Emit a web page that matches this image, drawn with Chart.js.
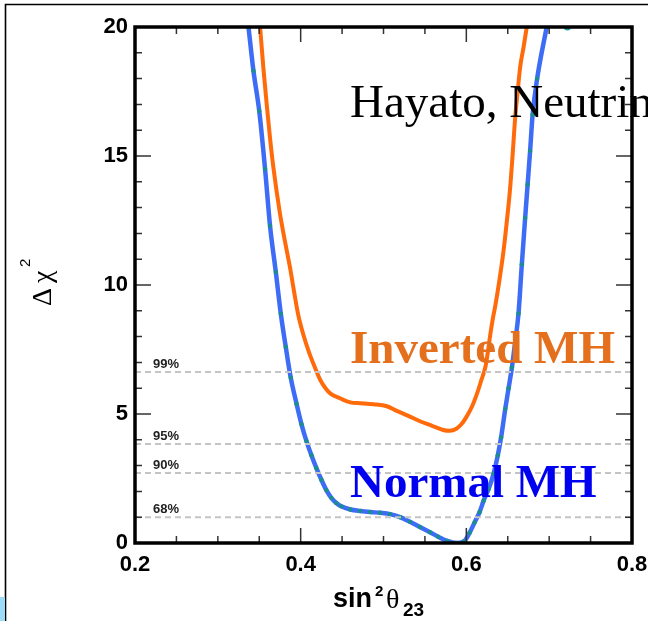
<!DOCTYPE html>
<html>
<head>
<meta charset="utf-8">
<script src="https://cdn.jsdelivr.net/npm/chart.js@4/dist/chart.umd.min.js"></script>
<style>
    html, body { margin: 0; padding: 0; background: #fff; }
    #wrap { width: 648px; height: 621px; position: relative; }
</style>
</head>
<body>
<div id="wrap"><canvas id="chart" width="648" height="621"></canvas></div>
<script>
// normal mass hierarchy (blue)
const normalX = [0.337, 0.343, 0.350, 0.357, 0.363, 0.370, 0.376, 0.382, 0.388, 0.395, 0.401, 0.407, 0.413, 0.419, 0.425, 0.431, 0.437, 0.443, 0.449, 0.460, 0.472, 0.484, 0.496, 0.508, 0.520, 0.532, 0.544, 0.556, 0.566, 0.577, 0.588, 0.597, 0.604, 0.610, 0.616, 0.621, 0.627, 0.633, 0.638, 0.642, 0.647, 0.651, 0.655, 0.659, 0.663, 0.667, 0.671, 0.674, 0.677, 0.680, 0.6855, 0.697];
const normalY = [20, 18.3, 16.74, 14.5, 12.3, 10.5, 8.89, 7.6, 6.41, 5.4, 4.6, 3.95, 3.4, 2.9, 2.45, 2.05, 1.75, 1.55, 1.42, 1.3, 1.24, 1.2, 1.17, 1.12, 1.0, 0.82, 0.62, 0.42, 0.24, 0.08, 0.0, 0.06, 0.4, 0.8, 1.2, 1.65, 2.1, 2.7, 3.4, 4.1, 5.2, 6.0, 6.8, 7.8, 8.9, 10.8, 12.6, 13.9, 15.2, 16.6, 18.0, 20];

// inverted mass hierarchy (orange)
const invertedX = [0.351, 0.355, 0.359, 0.363, 0.367, 0.375, 0.381, 0.387, 0.392, 0.397, 0.403, 0.410, 0.417, 0.424, 0.430, 0.436, 0.448, 0.460, 0.472, 0.488, 0.504, 0.516, 0.530, 0.544, 0.558, 0.572, 0.580, 0.588, 0.594, 0.600, 0.607, 0.613, 0.618, 0.623, 0.626, 0.629, 0.632, 0.635, 0.640, 0.645, 0.649, 0.653, 0.656, 0.659, 0.662, 0.665, 0.669, 0.673];
const invertedY = [20, 18.4, 17.0, 15.7, 14.57, 12.77, 11.7, 10.7, 9.75, 8.85, 8.1, 7.4, 6.82, 6.3, 6.0, 5.79, 5.6, 5.45, 5.42, 5.38, 5.3, 5.12, 4.93, 4.72, 4.55, 4.38, 4.35, 4.43, 4.6, 4.88, 5.3, 5.8, 6.3, 6.82, 7.4, 8.1, 8.7, 9.2, 10.2, 11.35, 12.5, 13.8, 15.1, 16.5, 17.5, 18.45, 19.2, 20];

// extra marker on the top edge
const edgeX = [0.722];
const edgeY = [20];

// confidence levels
const clLabels = ["99%", "95%", "90%", "68%"];
const clValues = [6.63, 3.84, 2.71, 1.0];

const xTicks = [0.2, 0.4, 0.6, 0.8];
const yTicks = [0, 5, 10, 15, 20];

const X_MIN = 0.2, X_MAX = 0.8, Y_MIN = 0, Y_MAX = 20;

function toPoints(xs, ys) {
    return xs.map((x, i) => ({ x: x, y: ys[i] }));
}

const datasets = [];
clValues.forEach((v, i) => {
    datasets.push({
        label: clLabels[i],
        data: [{ x: X_MIN, y: v }, { x: X_MAX, y: v }],
        borderColor: "#c4c4c4",
        borderWidth: 2,
        borderDash: [6, 4],
        pointRadius: 0
    });
});
datasets.push({
    label: "Inverted MH",
    data: toPoints(invertedX, invertedY),
    borderColor: "#ff6a0a",
    borderWidth: 4,
    pointRadius: 0,
    cubicInterpolationMode: "monotone"
});
datasets.push({
    label: "Normal MH",
    data: toPoints(normalX, normalY),
    borderColor: "#3d6cf6",
    borderWidth: 4.5,
    pointRadius: 2.2,
    pointBorderWidth: 0,
    pointBackgroundColor: "#1a8f8f",
    cubicInterpolationMode: "monotone"
});
datasets.push({
    label: "edge",
    data: toPoints(edgeX, edgeY),
    showLine: false,
    pointRadius: 3.5,
    pointBorderWidth: 0,
    pointBackgroundColor: "#1f9e9e"
});

// frame, inner ticks, texts
const decorations = {
    id: "decorations",
    beforeDraw(chart) {
        const ctx = chart.ctx;
        ctx.save();
        ctx.fillStyle = "#fff";
        ctx.fillRect(0, 0, chart.width, chart.height);
        // outer slide frame
        ctx.strokeStyle = "#000";
        ctx.lineWidth = 1.6;
        ctx.beginPath();
        ctx.moveTo(5.5, chart.height);
        ctx.lineTo(5.5, 4.5);
        ctx.lineTo(chart.width, 4.5);
        ctx.stroke();
        ctx.fillStyle = "#9ddcf6";
        ctx.fillRect(0, 597, 5, 24);
        ctx.restore();
    },
    afterDatasetsDraw(chart) {
        const ctx = chart.ctx;
        const xs = chart.scales.x, ys = chart.scales.y;
        const a = chart.chartArea;
        ctx.save();

        // ticks pointing inward on all four sides
        ctx.strokeStyle = "#333";
        ctx.lineWidth = 1.5;
        ctx.beginPath();
        for (let i = 0; i <= 12; i++) {
            const v = X_MIN + i * 0.05;
            const px = xs.getPixelForValue(v);
            const len = (i % 4 === 0) ? 15 : 7;
            ctx.moveTo(px, a.bottom); ctx.lineTo(px, a.bottom - len);
            ctx.moveTo(px, a.top); ctx.lineTo(px, a.top + len);
        }
        for (let v = Y_MIN; v <= Y_MAX; v++) {
            const py = ys.getPixelForValue(v);
            const len = (v % 5 === 0) ? 16 : 7;
            ctx.moveTo(a.left, py); ctx.lineTo(a.left + len, py);
            ctx.moveTo(a.right, py); ctx.lineTo(a.right - len, py);
        }
        ctx.stroke();

        // plot frame
        ctx.strokeStyle = "#000";
        ctx.lineWidth = 3.5;
        ctx.strokeRect(a.left, a.top, a.right - a.left, a.bottom - a.top);

        // confidence level labels
        ctx.fillStyle = "#222";
        ctx.font = "bold 13px 'Liberation Sans', Arial, sans-serif";
        ctx.textBaseline = "alphabetic";
        ctx.textAlign = "left";
        clValues.forEach((v, i) => {
            ctx.fillText(clLabels[i], a.left + 18, ys.getPixelForValue(v) - 4);
        });

        // annotations
        ctx.font = "47px 'Liberation Serif', 'Times New Roman', serif";
        ctx.fillStyle = "#000";
        ctx.fillText("Hayato, Neutrino", 350, 117);
        ctx.font = "bold 47px 'Liberation Serif', 'Times New Roman', serif";
        ctx.fillStyle = "#e46f1c";
        ctx.fillText("Inverted MH", 350, 363);
        ctx.fillStyle = "#0000f0";
        ctx.fillText("Normal MH", 350, 497);

        // x axis title
        ctx.fillStyle = "#000";
        ctx.font = "bold 27px 'Liberation Sans', Arial, sans-serif";
        ctx.fillText("sin", 333, 607);
        ctx.font = "bold 15px 'Liberation Sans', Arial, sans-serif";
        ctx.fillText("2", 375, 596);
        ctx.font = "28px 'Liberation Serif', 'Times New Roman', serif";
        ctx.fillText("\u03B8", 386, 608);
        ctx.font = "bold 19px 'Liberation Sans', Arial, sans-serif";
        ctx.fillText("23", 403, 616);

        // y axis title
        ctx.translate(51, 306);
        ctx.rotate(-Math.PI / 2);
        ctx.font = "28px 'Liberation Serif', 'Times New Roman', serif";
        ctx.fillText("\u0394", 0, 0);
        ctx.fillText("\u03C7", 23, 0);
        ctx.font = "15px 'Liberation Sans', Arial, sans-serif";
        ctx.fillText("2", 39, -21);

        ctx.restore();
    }
};

const ctx = document.getElementById("chart").getContext("2d");
new Chart(ctx, {
    type: "line",
    data: { datasets: datasets },
    options: {
        responsive: false,
        animation: false,
        layout: { padding: { top: 27, right: 16, left: 0, bottom: 0 } },
        plugins: {
            legend: { display: false },
            tooltip: { enabled: false }
        },
        scales: {
            x: {
                type: "linear",
                min: X_MIN,
                max: X_MAX,
                grid: { display: false, drawTicks: false },
                border: { display: false },
                afterBuildTicks: s => { s.ticks = xTicks.map(v => ({ value: v })); },
                afterFit: s => { s.height = 78; s.paddingLeft = 0; s.paddingRight = 0; },
                ticks: {
                    padding: 9,
                    color: "#000",
                    font: { family: "'Liberation Sans', Arial, sans-serif", size: 22, weight: "bold" },
                    callback: v => v.toFixed(1)
                }
            },
            y: {
                type: "linear",
                min: Y_MIN,
                max: Y_MAX,
                grid: { display: false, drawTicks: false },
                border: { display: false },
                afterBuildTicks: s => { s.ticks = yTicks.map(v => ({ value: v })); },
                afterFit: s => { s.width = 135; s.paddingTop = 0; s.paddingBottom = 0; },
                ticks: {
                    padding: 7,
                    color: "#000",
                    font: { family: "'Liberation Sans', Arial, sans-serif", size: 22, weight: "bold" }
                }
            }
        }
    },
    plugins: [decorations]
});
</script>
</body>
</html>
